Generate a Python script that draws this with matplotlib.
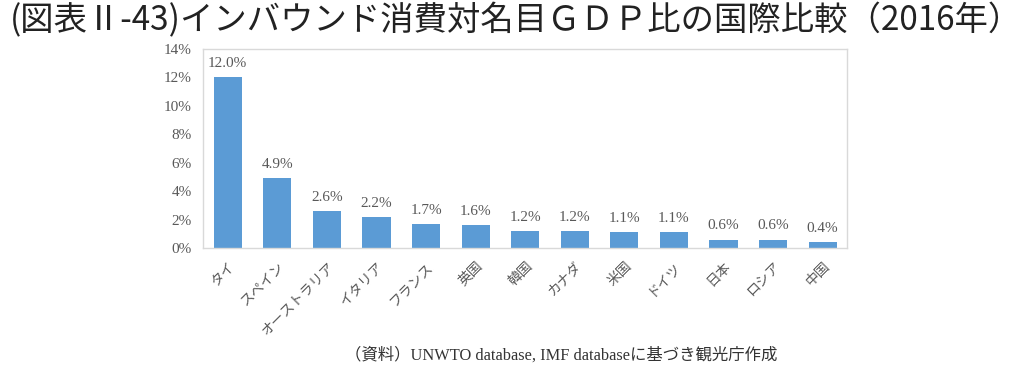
import matplotlib
matplotlib.use('Agg')
import matplotlib.pyplot as plt
import numpy as np

###############################
# Data

countries = ['タイ', 'スペイン', 'オーストラリア', 'イタリア', 'フランス', '英国',
             '韓国', 'カナダ', '米国', 'ドイツ', '日本', 'ロシア', '中国']
ratio = [12.0, 4.9, 2.6, 2.2, 1.7, 1.6, 1.2, 1.2, 1.1, 1.1, 0.6, 0.6, 0.4]
yticks = [0, 2, 4, 6, 8, 10, 12, 14]

title = '(図表Ⅱ-43)インバウンド消費対名目ＧＤＰ比の国際比較（2016年）'
source = '（資料）UNWTO database, IMF databaseに基づき観光庁作成'

###############################
# Style

barcolor = '#5B9BD5'
textgray = '#595959'
jp = ['Noto Sans CJK JP', 'DejaVu Sans']
serif = ['Liberation Serif', 'Noto Sans CJK JP']

###############################
# Plot

fig = plt.figure(figsize=(10.23, 3.77), dpi=100)
ax = fig.add_axes([0.1984, 0.342, 0.630, 0.528])

x = np.arange(len(countries))
ax.bar(x, ratio, width=0.57, color=barcolor)

for xi, v in zip(x, ratio):
    ax.text(xi, v + 0.5, '%.1f%%' % v, ha='center', va='bottom',
            fontsize=11, color=textgray, family=serif)

ax.set_xlim(-0.5, len(countries) - 0.5)
ax.set_ylim(0, 14)
ax.set_yticks(yticks)
ax.set_yticklabels(['%d%%' % t for t in yticks], family=serif,
                   fontsize=11, color=textgray)
ax.set_xticks(x)
ax.set_xticklabels(countries, rotation=45, ha='right', rotation_mode='anchor',
                   family=jp, fontsize=10, color=textgray)
ax.tick_params(axis='y', length=0, pad=8)
ax.tick_params(axis='x', length=0, pad=8)
for s in ax.spines.values():
    s.set_color('#D9D9D9')
    s.set_linewidth(1)

fig.text(0.504, 0.945, title, ha='center', va='center', fontsize=24,
         family=jp, color='#222222')
fig.text(0.337, 0.057, source, ha='left', va='center', fontsize=11.8,
         family=serif, color='#333333')

plt.savefig('out.png', dpi=100)
plt.close()
